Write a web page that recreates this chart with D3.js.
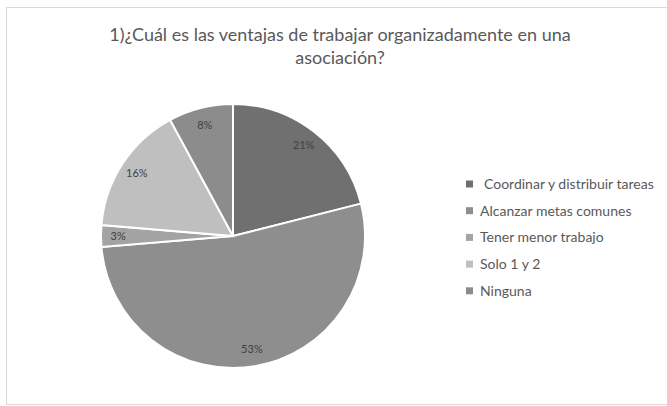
<!DOCTYPE html>
<html>
<head>
<meta charset="utf-8">
<script src="https://cdn.jsdelivr.net/npm/d3@7"></script>
<style>
  body { margin: 0; background: #fff; }
  svg { display: block; font-family: Lato, 'Open Sans', sans-serif; }
</style>
</head>
<body>
<div id="chart"></div>
<script>
// 資料
const categories = ['Coordinar y distribuir tareas', 'Alcanzar metas comunes', 'Tener menor trabajo', 'Solo 1 y 2', 'Ninguna'];
const counts = [8, 20, 1, 6, 3];
const colors = ['#707070', '#8e8e8e', '#a3a3a3', '#bfbfbf', '#8c8c8c'];
const titleLines = ['1)¿Cuál es las ventajas de trabajar organizadamente en una', 'asociación?'];

const width = 667, height = 406;
const svg = d3.select('#chart').append('svg')
    .attr('width', width).attr('height', height);

// 外框
svg.append('rect')
    .attr('x', 6.5).attr('y', 7.5)
    .attr('width', 670).attr('height', 397)
    .style('fill', '#fff').style('stroke', '#d9d9d9');

// 標題
svg.append('g').selectAll('text')
    .data(titleLines).enter()
    .append('text')
    .attr('x', 340).attr('y', (d, i) => 41 + i * 23)
    .attr('text-anchor', 'middle')
    .style('font-size', '18px').style('fill', '#595959')
    .text(d => d);

// 圓餅
const total = d3.sum(counts);
const data = categories.map((c, i) => ({ name: c, value: counts[i], color: colors[i] }));
const pie = d3.pie().value(d => d.value).sort(null);
const radius = 132;
const arc = d3.arc().innerRadius(0).outerRadius(radius);
const labelArc = d3.arc().innerRadius(radius * 0.87).outerRadius(radius * 0.87);

const pieGroup = svg.append('g').attr('transform', 'translate(233,236)');
const arcs = pie(data);
pieGroup.selectAll('path')
    .data(arcs).enter()
    .append('path')
    .attr('d', arc)
    .style('fill', d => d.data.color)
    .style('stroke', '#fff').style('stroke-width', 2);

pieGroup.selectAll('.pie-label')
    .data(arcs).enter()
    .append('text')
    .attr('class', 'pie-label')
    .attr('transform', d => `translate(${labelArc.centroid(d)})`)
    .attr('text-anchor', 'middle')
    .attr('dy', '0.35em')
    .style('font-size', '11px').style('fill', '#404040')
    .text(d => d3.format('.0%')(d.data.value / total));

// 圖例
const legend = svg.append('g').attr('transform', 'translate(466,184)');
const items = legend.selectAll('g')
    .data(data).enter()
    .append('g')
    .attr('transform', (d, i) => `translate(0,${i * 26.7})`);
items.append('rect')
    .attr('x', 0).attr('y', -3.5).attr('width', 7).attr('height', 7)
    .style('fill', d => d.color);
items.append('text')
    .attr('x', (d, i) => i === 0 ? 18 : 14).attr('dy', '0.35em')
    .style('font-size', '14px').style('fill', '#595959')
    .text(d => d.name);
</script>
</body>
</html>
